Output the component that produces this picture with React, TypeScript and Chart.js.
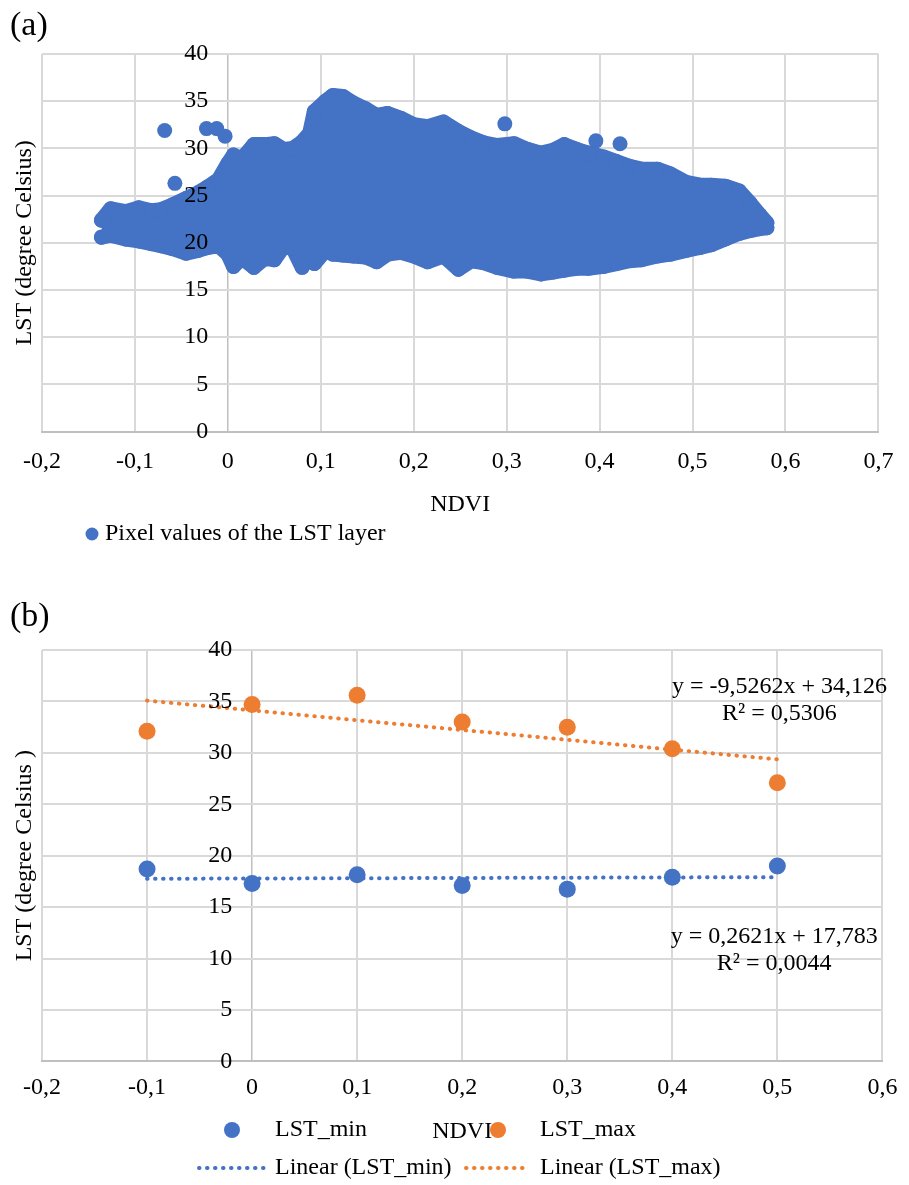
import React, { useEffect, useRef } from 'react';
import { Chart, registerables } from 'chart.js';

Chart.register(...registerables);

const FONT = "'Liberation Serif', 'Times New Roman', serif";
const BLUE = '#4472C4';
const ORANGE = '#ED7D31';
const GRID = '#D9D9D9';
const AXIS = '#BFBFBF';

// ---------- Chart (a): pixel cloud, drawn as outline of the dense cloud + stray pixels ----------
const envelopeNdvi = [-0.136, -0.126, -0.110, -0.096, -0.082, -0.072, -0.060, -0.045, -0.032, -0.022, -0.010, 0.000, 0.006, 0.015, 0.028, 0.040, 0.050, 0.060, 0.070, 0.080, 0.088, 0.093, 0.105, 0.113, 0.124, 0.135, 0.148, 0.160, 0.172, 0.186, 0.200, 0.215, 0.232, 0.248, 0.262, 0.275, 0.290, 0.308, 0.322, 0.337, 0.350, 0.362, 0.375, 0.388, 0.404, 0.418, 0.432, 0.445, 0.462, 0.476, 0.493, 0.508, 0.520, 0.535, 0.550, 0.562, 0.572, 0.580];
const envelopeUpper = [22.4, 23.6, 23.3, 23.7, 23.4, 23.5, 24.0, 24.7, 25.3, 25.9, 26.7, 28.4, 29.3, 28.9, 30.4, 30.4, 30.5, 29.9, 30.0, 30.7, 31.6, 33.9, 35.0, 35.6, 35.5, 34.8, 34.2, 33.5, 33.7, 33.2, 32.5, 32.3, 32.8, 31.8, 31.1, 30.6, 30.3, 30.5, 29.9, 29.5, 29.8, 30.4, 29.9, 29.5, 29.1, 28.6, 28.1, 27.8, 27.8, 27.3, 26.4, 26.1, 26.1, 26.0, 25.5, 24.2, 23.0, 22.1];
const envelopeLower = [20.6, 20.8, 20.4, 20.2, 19.9, 19.7, 19.4, 18.9, 19.2, 19.5, 19.7, 18.8, 17.5, 18.4, 17.4, 18.4, 18.2, 19.6, 19.4, 17.4, 19.2, 17.8, 19.2, 18.8, 18.7, 18.6, 18.5, 18.0, 18.8, 19.0, 18.6, 18.0, 18.6, 17.2, 18.1, 17.9, 17.4, 17.0, 17.0, 16.7, 16.9, 17.1, 17.3, 17.3, 17.5, 17.8, 18.1, 18.2, 18.6, 18.8, 19.2, 19.5, 19.8, 20.4, 21.0, 21.3, 21.5, 21.6];
const strayNdvi = [-0.068, -0.023, -0.012, -0.003, -0.057, 0.298, 0.396, 0.422];
const strayLst = [31.9, 32.1, 32.1, 31.3, 26.3, 32.6, 30.8, 30.5];

const xTicksA = [-0.2, -0.1, 0, 0.1, 0.2, 0.3, 0.4, 0.5, 0.6, 0.7];
const xTickLabelsA = ['-0,2', '-0,1', '0', '0,1', '0,2', '0,3', '0,4', '0,5', '0,6', '0,7'];
const yTicks = [0, 5, 10, 15, 20, 25, 30, 35, 40];
const yTickLabels = ['0', '5', '10', '15', '20', '25', '30', '35', '40'];

// ---------- Chart (b): per-class min / max ----------
const ndviClasses = [-0.1, 0, 0.1, 0.2, 0.3, 0.4, 0.5];
const lstMin = [18.7, 17.3, 18.15, 17.1, 16.75, 17.9, 19.0];
const lstMax = [32.1, 34.7, 35.6, 33.0, 32.5, 30.4, 27.1];
const trendNdvi = [-0.1, 0.5];
const trendMin = [17.757, 17.914];
const trendMax = [35.079, 29.363];
const xTicksB = [-0.2, -0.1, 0, 0.1, 0.2, 0.3, 0.4, 0.5, 0.6];
const xTickLabelsB = ['-0,2', '-0,1', '0', '0,1', '0,2', '0,3', '0,4', '0,5', '0,6'];
const eqMaxLines = ['y = -9,5262x + 34,126', 'R² = 0,5306'];
const eqMinLines = ['y = 0,2621x + 17,783', 'R² = 0,0044'];

const pts = (xs: number[], ys: number[]) => xs.map((x, i) => ({ x, y: ys[i] }));
const font24 = { family: FONT, size: 24 };
const DOTS = [0.5, 7.5];

// The value axis crosses at NDVI = 0; its labels sit ~20px to the left of that line.
const LABEL_ANCHOR_A = -0.0212;
const LABEL_ANCHOR_B = -0.0188;

function xScale(ticks: number[], labels: string[], min: number, max: number, tickPad: number, titlePad: number) {
  return {
    type: 'linear',
    min,
    max,
    afterBuildTicks: (axis: any) => {
      axis.ticks = ticks.map((v) => ({ value: v }));
    },
    ticks: {
      callback: (_v: any, i: number) => labels[i],
      font: font24,
      color: '#000',
      padding: tickPad,
      maxRotation: 0,
      autoSkip: false,
    },
    grid: {
      color: (c: any) => (c.tick && Math.abs(c.tick.value) < 1e-9 ? AXIS : GRID),
      lineWidth: (c: any) => (c.tick && Math.abs(c.tick.value) < 1e-9 ? 1.5 : 2),
      drawTicks: false,
    },
    border: { color: AXIS, width: 2 },
    title: { display: true, text: 'NDVI', font: font24, color: '#000', padding: { top: titlePad, bottom: 0 } },
  };
}

function yScale(anchor: number) {
  return {
    type: 'linear',
    min: 0,
    max: 40,
    position: { x: anchor },
    afterBuildTicks: (axis: any) => {
      axis.ticks = yTicks.map((v) => ({ value: v }));
    },
    ticks: {
      callback: (_v: any, i: number) => yTickLabels[i],
      font: font24,
      color: '#000',
      padding: 0,
      z: 1,
    },
    grid: { color: GRID, lineWidth: 2, drawTicks: false },
    border: { display: false },
  };
}

function yTitleScale(text: string) {
  return {
    axis: 'y',
    type: 'linear',
    position: 'left',
    display: true,
    ticks: { display: false },
    grid: { display: false, drawTicks: false },
    border: { display: false },
    title: { display: true, text, font: font24, color: '#000', padding: { top: 0.6, bottom: 2.6 } },
  };
}

function drawDots(ctx: CanvasRenderingContext2D, color: string, x1: number, x2: number, y: number) {
  ctx.save();
  ctx.strokeStyle = color;
  ctx.lineWidth = 4;
  ctx.lineCap = 'round';
  ctx.setLineDash(DOTS);
  ctx.beginPath();
  ctx.moveTo(x1, y);
  ctx.lineTo(x2, y);
  ctx.stroke();
  ctx.restore();
}

function drawDot(ctx: CanvasRenderingContext2D, color: string, x: number, y: number, r: number) {
  ctx.fillStyle = color;
  ctx.beginPath();
  ctx.arc(x, y, r, 0, Math.PI * 2);
  ctx.fill();
}

const legendA = {
  id: 'legendA',
  afterDraw(chart: any) {
    const ctx = chart.ctx as CanvasRenderingContext2D;
    ctx.save();
    drawDot(ctx, BLUE, 92, 534, 6.5);
    ctx.fillStyle = '#000';
    ctx.font = `24px ${FONT}`;
    ctx.textBaseline = 'middle';
    ctx.textAlign = 'left';
    ctx.fillText('Pixel values of the LST layer', 105, 534);
    ctx.restore();
  },
};

const overlayB = {
  id: 'overlayB',
  afterDraw(chart: any) {
    const ctx = chart.ctx as CanvasRenderingContext2D;
    const xs = chart.scales.x;
    const ys = chart.scales.y;
    ctx.save();
    ctx.font = `24px ${FONT}`;
    ctx.fillStyle = '#000';
    ctx.textBaseline = 'middle';
    // trendline labels
    ctx.textAlign = 'center';
    ctx.fillText(eqMaxLines[0], xs.getPixelForValue(0.502), ys.getPixelForValue(36.39));
    ctx.fillText(eqMaxLines[1], xs.getPixelForValue(0.502), ys.getPixelForValue(33.76));
    ctx.fillText(eqMinLines[0], xs.getPixelForValue(0.497), ys.getPixelForValue(12.1));
    ctx.fillText(eqMinLines[1], xs.getPixelForValue(0.497), ys.getPixelForValue(9.49));
    // legend
    const r1 = 555;
    const r2 = 593;
    drawDot(ctx, BLUE, 232, r1, 8);
    drawDot(ctx, ORANGE, 498, r1, 8);
    drawDots(ctx, BLUE, 199, 266, r2);
    drawDots(ctx, ORANGE, 466, 530, r2);
    ctx.fillStyle = '#000';
    ctx.textAlign = 'left';
    ctx.fillText('LST_min', 275, r1);
    ctx.fillText('LST_max', 540, r1);
    ctx.fillText('Linear (LST_min)', 275, r2);
    ctx.fillText('Linear (LST_max)', 540, r2);
    ctx.restore();
  },
};

function buildA(): any {
  const cloudStyle = {
    type: 'line',
    xAxisID: 'x',
    yAxisID: 'y',
    borderColor: BLUE,
    backgroundColor: BLUE,
    borderWidth: 15,
    borderJoinStyle: 'round',
    borderCapStyle: 'round',
    pointRadius: 7.5,
    pointBackgroundColor: BLUE,
    pointBorderWidth: 0,
    tension: 0,
  };
  return {
    type: 'scatter',
    data: {
      datasets: [
        { ...cloudStyle, label: 'Pixel values of the LST layer', data: pts(envelopeNdvi, envelopeUpper), fill: '+1' },
        { ...cloudStyle, label: 'lower', data: pts(envelopeNdvi, envelopeLower), fill: false },
        {
          type: 'scatter',
          label: 'stray',
          xAxisID: 'x',
          yAxisID: 'y',
          data: pts(strayNdvi, strayLst),
          pointRadius: 7.5,
          backgroundColor: BLUE,
          borderWidth: 0,
        },
      ],
    },
    options: {
      responsive: false,
      animation: false,
      events: [],
      layout: { padding: { left: 10, right: 18, top: 0, bottom: 55.6 } },
      plugins: {
        legend: { display: false },
        tooltip: { enabled: false },
        title: {
          display: true,
          text: '(a)',
          align: 'start',
          color: '#000',
          font: { family: FONT, size: 34, weight: 'normal' },
          padding: { top: 5.6, bottom: 7.6 },
        },
      },
      scales: {
        x: xScale(xTicksA, xTickLabelsA, -0.2, 0.7, 15.6, -1),
        y: yScale(LABEL_ANCHOR_A),
        yTitle: yTitleScale('LST (degree Celsius)'),
      },
    },
    plugins: [legendA],
  };
}

function buildB(): any {
  const trendStyle = {
    type: 'line',
    xAxisID: 'x',
    yAxisID: 'y',
    pointRadius: 0,
    fill: false,
    borderWidth: 4,
    borderDash: DOTS,
    borderCapStyle: 'round',
    order: 1,
  };
  return {
    type: 'scatter',
    data: {
      datasets: [
        { type: 'scatter', label: 'LST_min', xAxisID: 'x', yAxisID: 'y', data: pts(ndviClasses, lstMin), pointRadius: 8.5, backgroundColor: BLUE, borderWidth: 0, order: 2 },
        { type: 'scatter', label: 'LST_max', xAxisID: 'x', yAxisID: 'y', data: pts(ndviClasses, lstMax), pointRadius: 8.5, backgroundColor: ORANGE, borderWidth: 0, order: 2 },
        { ...trendStyle, label: 'Linear (LST_min)', data: pts(trendNdvi, trendMin), borderColor: BLUE },
        { ...trendStyle, label: 'Linear (LST_max)', data: pts(trendNdvi, trendMax), borderColor: ORANGE },
      ],
    },
    options: {
      responsive: false,
      animation: false,
      events: [],
      layout: { padding: { left: 10, right: 16, top: 0, bottom: 38.6 } },
      plugins: {
        legend: { display: false },
        tooltip: { enabled: false },
        title: {
          display: true,
          text: '(b)',
          align: 'start',
          color: '#000',
          font: { family: FONT, size: 34, weight: 'normal' },
          padding: { top: 21.6, bottom: 12.6 },
        },
      },
      scales: {
        x: xScale(xTicksB, xTickLabelsB, -0.2, 0.6, 11.6, 4.2),
        y: yScale(LABEL_ANCHOR_B),
        yTitle: yTitleScale('LST (degree Celsius )'),
      },
    },
    plugins: [overlayB],
  };
}

function ChartCanvas({ width, height, build }: { width: number; height: number; build: () => any }) {
  const ref = useRef<HTMLCanvasElement>(null);
  useEffect(() => {
    const chart = new Chart(ref.current as HTMLCanvasElement, build());
    return () => chart.destroy();
  }, []);
  return <canvas ref={ref} width={width} height={height} style={{ display: 'block', width, height }} />;
}

export default function App() {
  return (
    <div style={{ position: 'absolute', left: 0, top: 0, width: 909, height: 1185, background: '#fff', overflow: 'hidden' }}>
      <ChartCanvas width={909} height={575} build={buildA} />
      <ChartCanvas width={909} height={610} build={buildB} />
    </div>
  );
}
